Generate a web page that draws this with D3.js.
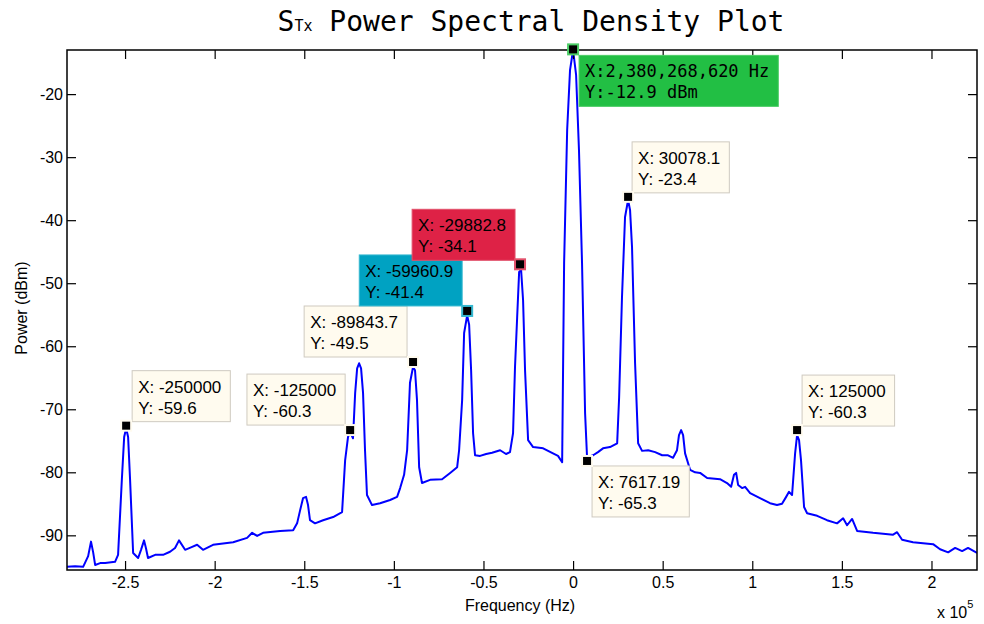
<!DOCTYPE html>
<html>
<head>
<meta charset="utf-8">
<script src="https://cdn.jsdelivr.net/npm/d3@7"></script>
<style>
  body { margin: 0; background: #fff; }
  svg { display: block; }
  text { font-family: "Liberation Sans", Arial, sans-serif; }
</style>
</head>
<body>
<script>
// spectrum: frequency in kHz, power in dBm
const freqKHz = [
  -282.4, -277.9, -273.4, -270.6, -269.0, -267.8, -266.7, -263.9, -261.1, -255.6,
  -253.9, -251.8, -250.5, -249.4, -248.3, -247.2, -245.5, -242.7, -241.1, -239.4,
  -238.3, -237.2, -233.2, -228.8, -224.9, -222.1, -219.9, -216.5, -213.2, -209.8,
  -206.5, -200.9, -189.7, -181.9, -179.1, -176.3, -173.0, -163.5, -156.2, -154.0,
  -152.3, -150.7, -149.0, -147.9, -146.8, -144.0, -139.5, -133.9, -128.9, -127.2,
  -125.6, -124.4, -122.8, -121.6, -120.5, -119.4, -118.3, -117.2, -116.1, -115.0,
  -112.2, -107.7, -102.1, -98.2, -96.5, -94.3, -92.6, -91.0, -89.3, -88.2,
  -87.1, -85.9, -84.3, -79.8, -73.1, -68.6, -64.7, -63.6, -61.9, -60.8,
  -59.1, -58.0, -56.9, -55.8, -54.7, -51.9, -48.5, -45.2, -40.7, -37.4,
  -35.2, -33.5, -32.4, -31.2, -30.1, -29.0, -27.9, -26.8, -25.1, -22.3,
  -16.7, -11.2, -8.4, -6.1, -5.0, -3.3, -1.7, 0, 1.7, 3.3,
  5.0, 6.7, 7.8, 11.2, 13.9, 16.7, 20.6, 24.6, 25.7, 27.3,
  29.0, 30.7, 31.8, 32.9, 34.6, 36.3, 38.5, 41.9, 45.8, 49.7,
  53.0, 55.8, 58.0, 59.1, 60.3, 61.4, 62.5, 65.3, 68.1, 70.9,
  74.8, 82.0, 85.9, 88.2, 89.8, 91.0, 92.1, 94.3, 96.0, 98.8,
  104.3, 109.9, 113.8, 116.6, 118.9, 120.5, 122.2, 123.9, 125.0, 126.1,
  127.2, 128.9, 130.6, 136.2, 141.7, 147.3, 150.7, 152.9, 155.7, 158.5,
  167.4, 178.6, 180.8, 183.6, 189.7, 200.9, 204.8, 209.3, 213.2, 217.1,
  220.4, 225.4
];
const powerDbm = [
  -95.0, -94.9, -95.0, -93.3, -91.0, -92.7, -94.7, -94.4, -94.4, -94.2,
  -93.1, -81.2, -74.4, -73.0, -74.4, -81.2, -92.8, -93.6, -92.3, -90.8,
  -92.1, -93.6, -93.1, -93.1, -92.6, -92.0, -90.8, -92.3, -91.9, -91.5,
  -92.3, -91.5, -91.1, -90.4, -89.6, -90.1, -89.6, -89.3, -89.2, -88.1,
  -86.0, -84.1, -83.9, -85.2, -87.6, -88.1, -87.6, -87.1, -86.3, -78.1,
  -74.4, -73.6, -74.6, -67.4, -63.5, -62.7, -63.5, -67.4, -76.5, -83.6,
  -85.2, -84.9, -84.4, -83.9, -82.5, -80.4, -76.5, -65.8, -63.3, -63.8,
  -68.5, -79.2, -81.7, -81.2, -81.1, -80.1, -79.2, -76.5, -68.5, -57.9,
  -55.1, -56.6, -63.8, -73.8, -77.3, -77.4, -77.1, -76.9, -76.5, -77.1,
  -76.8, -73.8, -63.3, -55.4, -48.2, -47.9, -52.7, -63.8, -74.9, -76.0,
  -76.2, -77.0, -77.4, -78.4, -46.8, -25.7, -16.2, -13.0, -17.0, -28.9,
  -46.8, -70.6, -77.6, -77.3, -76.8, -76.2, -76.0, -75.4, -68.1, -52.2,
  -39.5, -36.8, -38.4, -44.3, -62.7, -75.4, -76.6, -76.5, -76.8, -77.3,
  -77.3, -77.7, -76.5, -74.1, -73.3, -74.1, -77.0, -79.6, -80.0, -80.1,
  -80.9, -81.1, -81.7, -82.3, -80.4, -80.1, -82.0, -82.5, -82.3, -83.3,
  -84.1, -84.9, -85.2, -85.0, -83.9, -83.1, -83.6, -77.0, -74.1, -74.9,
  -78.1, -85.5, -86.5, -86.9, -87.6, -88.1, -87.3, -88.4, -87.4, -89.3,
  -89.6, -89.9, -89.5, -90.7, -91.1, -91.4, -92.2, -92.7, -92.0, -92.5,
  -92.0, -92.8
];

// data tips: where the marker sits, and the text shown in the box
const tipFreqKHz = [-249.4, -124.4, -89.3, -59.1, -29.6, 0, 30.7, 7.8, 125.0];
const tipPowerDbm = [-72.6, -73.3, -62.5, -54.4, -47.0, -12.9, -36.3, -78.2, -73.3];
const tipLine1 = ["X: -250000", "X: -125000", "X: -89843.7", "X: -59960.9", "X: -29882.8",
                  "X:2,380,268,620 Hz", "X: 30078.1", "X: 7617.19", "X: 125000"];
const tipLine2 = ["Y: -59.6", "Y: -60.3", "Y: -49.5", "Y: -41.4", "Y: -34.1",
                  "Y:-12.9 dBm", "Y: -23.4", "Y: -65.3", "Y: -60.3"];

const xTicks = [-2.5, -2, -1.5, -1, -0.5, 0, 0.5, 1, 1.5, 2];
const yTicks = [-90, -80, -70, -60, -50, -40, -30, -20];

const width = 984, height = 624;
const mLeft = 67, mRight = 977, mTop = 50, mBottom = 570;

const svg = d3.select("body").append("svg")
  .attr("width", width)
  .attr("height", height);

const x = d3.scaleLinear().domain([-282.4e3, 225.4e3]).range([mLeft, mRight]);
const y = d3.scaleLinear().domain([-95.5, -13.0]).range([mBottom, mTop]);

// title, S with small Tx
const title = svg.append("text")
  .attr("x", 531).attr("y", 31)
  .attr("text-anchor", "middle")
  .style("font-family", "'DejaVu Sans Mono', monospace")
  .style("font-size", "28px");
title.append("tspan").text("S");
title.append("tspan").style("font-size", "15px").text("Tx");
title.append("tspan").text(" Power Spectral Density Plot");

// curve
const pts = freqKHz.map((f, i) => [f * 1000, powerDbm[i]]);
svg.append("defs").append("clipPath").attr("id", "clip")
  .append("rect").attr("x", mLeft).attr("y", mTop).attr("width", mRight - mLeft).attr("height", mBottom - mTop);

svg.append("path")
  .datum(pts)
  .attr("clip-path", "url(#clip)")
  .attr("fill", "none")
  .attr("stroke", "#0000ff")
  .attr("stroke-width", 2)
  .attr("stroke-linejoin", "round")
  .attr("d", d3.line().x(d => x(d[0])).y(d => y(d[1])));

// axes, ticks pointing inward on all four sides
const tickLen = 9;
const xVals = xTicks.map(v => v * 1e5);

svg.append("g").attr("transform", `translate(0,${mBottom})`)
  .call(d3.axisBottom(x).tickValues(xVals).tickSize(-tickLen).tickPadding(7).tickFormat(d => String(+(d / 1e5).toFixed(1))))
  .call(g => g.select(".domain").remove());
svg.append("g").attr("transform", `translate(0,${mTop})`)
  .call(d3.axisTop(x).tickValues(xVals).tickSize(-tickLen).tickFormat(""))
  .call(g => g.select(".domain").remove());
svg.append("g").attr("transform", `translate(${mLeft},0)`)
  .call(d3.axisLeft(y).tickValues(yTicks).tickSize(-tickLen).tickPadding(4).tickFormat(d => String(d)))
  .call(g => g.select(".domain").remove());
svg.append("g").attr("transform", `translate(${mRight},0)`)
  .call(d3.axisRight(y).tickValues(yTicks).tickSize(-tickLen).tickFormat(""))
  .call(g => g.select(".domain").remove());

svg.selectAll(".tick line").attr("stroke", "#000").attr("stroke-width", 1.2);
svg.selectAll(".tick text")
  .attr("fill", "#000")
  .style("font-family", "'Liberation Sans', Arial, sans-serif")
  .style("font-size", "16px");

svg.append("rect")
  .attr("x", mLeft).attr("y", mTop)
  .attr("width", mRight - mLeft).attr("height", mBottom - mTop)
  .attr("fill", "none")
  .attr("stroke", "#000")
  .attr("stroke-width", 1.5);

// axis labels
svg.append("text")
  .attr("x", 520).attr("y", 611)
  .attr("text-anchor", "middle")
  .style("font-size", "16px")
  .text("Frequency (Hz)");

const expo = svg.append("text")
  .attr("x", 937).attr("y", 618)
  .style("font-size", "16px");
expo.append("tspan").text("x 10");
expo.append("tspan").attr("dy", -10).style("font-size", "11px").text("5");

svg.append("text")
  .attr("transform", "translate(27,308) rotate(-90)")
  .attr("text-anchor", "middle")
  .style("font-size", "16px")
  .text("Power (dBm)");

// data tip boxes; side "r" puts box right of marker, "l" left of it
const tipPlace = [
  { side: "r", dx: 6, dy: -55, fill: "#fffbef", edge: "#fffbef" },
  { side: "l", dx: -5, dy: -56, fill: "#fffbef", edge: "#fffbef" },
  { side: "l", dx: -6, dy: -56, fill: "#fffbef", edge: "#fffbef" },
  { side: "l", dx: -5, dy: -56, fill: "#00a2c2", edge: "#35b8d0" },
  { side: "l", dx: -5, dy: -55, fill: "#de2246", edge: "#e2506a" },
  { side: "r", dx: 6, dy: 6, fill: "#22bf44", edge: "#4ccd66", mono: true },
  { side: "r", dx: 4, dy: -55, fill: "#fffbef", edge: "#fffbef" },
  { side: "r", dx: 5, dy: 5, fill: "#fffbef", edge: "#fffbef" },
  { side: "r", dx: 5, dy: -55, fill: "#fffbef", edge: "#fffbef" }
];

const tips = svg.append("g");
tipFreqKHz.forEach((f, i) => {
  const p = tipPlace[i];
  const mx = x(f * 1000), my = y(tipPowerDbm[i]);
  const g = tips.append("g");
  const rect = g.append("rect");
  const t = g.append("text")
    .style("font-family", p.mono ? "'DejaVu Sans Mono', monospace" : "'Liberation Sans', Arial, sans-serif")
    .style("font-size", "17px")
    .attr("fill", "#000");
  const l1 = t.append("tspan").attr("x", 0).attr("y", 0).text(tipLine1[i]);
  const l2 = t.append("tspan").attr("x", 0).attr("y", 21).text(tipLine2[i]);
  const w = Math.max(l1.node().getComputedTextLength(), l2.node().getComputedTextLength()) + 15;
  const h = 51;
  const bx = p.side === "r" ? mx + p.dx : mx + p.dx - w;
  const by = my + p.dy;
  rect.attr("x", bx).attr("y", by).attr("width", w).attr("height", h)
    .attr("fill", p.fill)
    .attr("stroke", p.edge === "#fffbef" ? "#cfcac0" : p.edge)
    .attr("stroke-width", 1);
  t.attr("transform", `translate(${bx + 6},${by + 22})`);

  g.append("rect")
    .attr("x", mx - 5).attr("y", my - 5)
    .attr("width", 10).attr("height", 10)
    .attr("fill", "#000")
    .attr("stroke", p.edge)
    .attr("stroke-width", 2);
});
</script>
</body>
</html>
